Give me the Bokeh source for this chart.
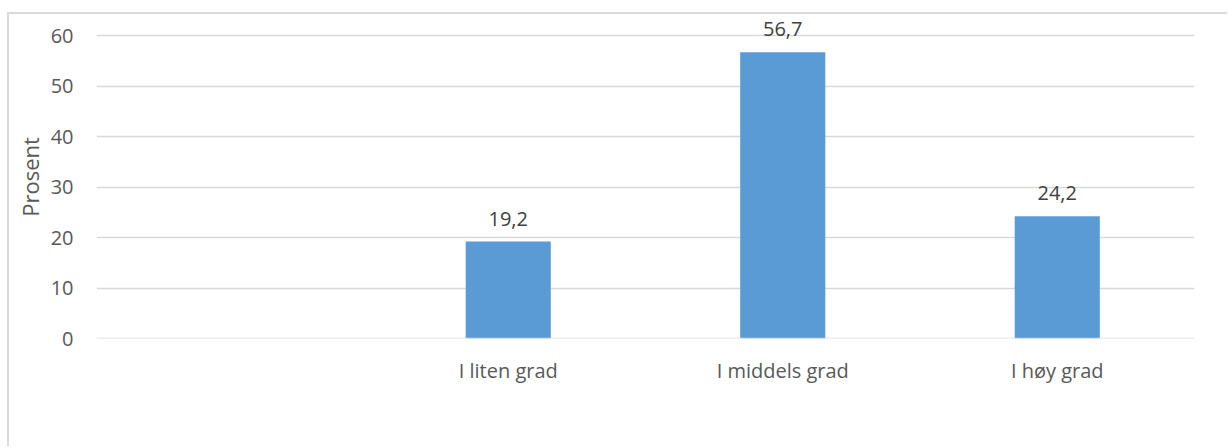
from bokeh.plotting import figure
from bokeh.models import FactorRange, Range1d, ColumnDataSource, Span, FixedTicker, LabelSet
from bokeh.core.properties import value
from bokeh.embed import file_html
from bokeh.resources import INLINE

categories = [" ", "I liten grad", "I middels grad", "I høy grad"]
bar_categories = ["I liten grad", "I middels grad", "I høy grad"]
percent = [19.2, 56.7, 24.2]
y_ticks = [0, 10, 20, 30, 40, 50, 60]

FONT = "Open Sans"
src = ColumnDataSource(dict(
    cat=bar_categories,
    val=percent,
    lab=[f"{v:.1f}".replace(".", ",") for v in percent],
))

p = figure(width=1220, height=434, x_range=FactorRange(*categories),
           y_range=Range1d(0, 64), output_backend="svg", toolbar_location=None,
           min_border_left=87, min_border_right=35, min_border_top=1, min_border_bottom=110)
p.margin = (12, 0, 0, 7)
p.styles = {"border-left": "2px solid #D9D9D9", "border-top": "2px solid #D9D9D9"}
p.vbar(x="cat", top="val", width=0.31, source=src, fill_color="#5B9BD5", line_color=None)
labels = LabelSet(x="cat", y="val", text="lab", source=src, text_align="center",
                  text_baseline="bottom", y_offset=16, text_font=value(FONT),
                  text_font_size="20px", text_color="#404040")
p.add_layout(labels)

p.outline_line_color = None
p.xgrid.grid_line_color = None
p.ygrid.grid_line_color = "#D9D9D9"
p.ygrid.grid_line_width = 1.3
p.add_layout(Span(location=0, dimension="width", line_color="#D9D9D9", line_width=1.3))
p.yaxis.ticker = FixedTicker(ticks=y_ticks)
for ax in (p.xaxis, p.yaxis):
    ax.axis_line_color = None
    ax.major_tick_line_color = None
    ax.minor_tick_line_color = None
    ax.major_label_text_font = FONT
    ax.major_label_text_font_size = "20px"
    ax.major_label_text_color = "#595959"
p.yaxis.major_label_standoff = 17
p.xaxis.major_label_standoff = 12
p.yaxis.axis_label = "Prosent"
p.yaxis.axis_label_text_font = FONT
p.yaxis.axis_label_text_font_size = "22px"
p.yaxis.axis_label_text_font_style = "normal"
p.yaxis.axis_label_text_color = "#595959"
p.yaxis.axis_label_standoff = 3

open("out.html", "w").write(file_html(p, INLINE))
